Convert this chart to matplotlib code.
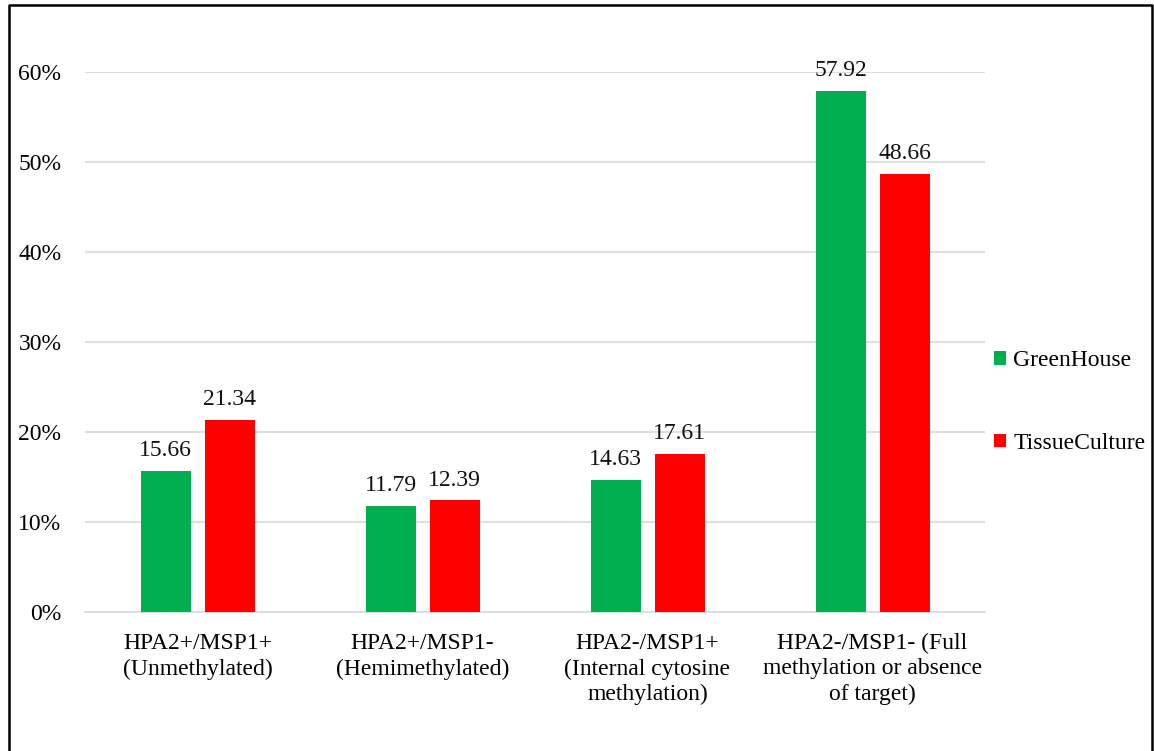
import matplotlib.pyplot as plt
import numpy as np
from matplotlib.lines import Line2D
from matplotlib.ticker import PercentFormatter

categories = [
    "HPA2+/MSP1+\n(Unmethylated)",
    "HPA2+/MSP1-\n(Hemimethylated)",
    "HPA2-/MSP1+\n(Internal cytosine\nmethylation)",
    "HPA2-/MSP1- (Full\nmethylation or absence\nof target)",
]
greenhouse = [15.66, 11.79, 14.63, 57.92]
tissue_culture = [21.34, 12.39, 17.61, 48.66]
series_names = ["GreenHouse", "TissueCulture"]

GREEN = "#00b050"
RED = "#ff0000"
W, H = 1154, 751
FS = 17

plt.rcParams["font.family"] = ["Liberation Serif", "DejaVu Serif"]

fig = plt.figure(figsize=(W / 100, H / 100), dpi=100)
ax = fig.add_axes([85 / W, 1 - 612 / H, 900 / W, 540 / H])

x = np.arange(len(categories))
bw = 50 / 225
off = 32 / 225
for vals, color, sign, name in [(greenhouse, GREEN, -1, series_names[0]),
                                (tissue_culture, RED, 1, series_names[1])]:
    bars = ax.bar(x + sign * off, np.array(vals) / 100, width=bw, color=color, label=name, zorder=3)
    for b, v in zip(bars, vals):
        ax.text(b.get_x() + b.get_width() / 2, v / 100 + 0.011, f"{v:.2f}",
                ha="center", va="bottom", fontsize=FS, color="#111111", clip_on=False)

ax.set_xlim(-0.5, len(categories) - 0.5)
ax.set_ylim(0, 0.6)
ax.set_yticks(np.arange(0, 0.61, 0.1))
ax.yaxis.set_major_formatter(PercentFormatter(1.0, decimals=0))
ax.grid(axis="y", color="#d9d9d9", linewidth=1.2, zorder=0)
ax.set_xticks(x)
ax.set_xticklabels(categories, fontsize=FS, linespacing=1.28)
ax.tick_params(axis="y", labelsize=FS, length=0, pad=17)
ax.tick_params(axis="x", length=0, pad=15)
for s in ["top", "right", "left"]:
    ax.spines[s].set_visible(False)
ax.spines["bottom"].set_color("#d9d9d9")
ax.spines["bottom"].set_linewidth(1.2)

fig.legend(loc="center left", bbox_to_anchor=(973 / W, 1 - 402 / H), frameon=False,
           fontsize=FS, labelspacing=2.6, handlelength=0.5, handleheight=0.5,
           handletextpad=0.3)

# outer frame (left, top, right)
fig.add_artist(Line2D([9 / W, 9 / W, 1152 / W, 1152 / W],
                      [0, 1 - 5 / H, 1 - 5 / H, 0],
                      color="black", linewidth=1.8, transform=fig.transFigure))

fig.savefig("out.png", dpi=100)
